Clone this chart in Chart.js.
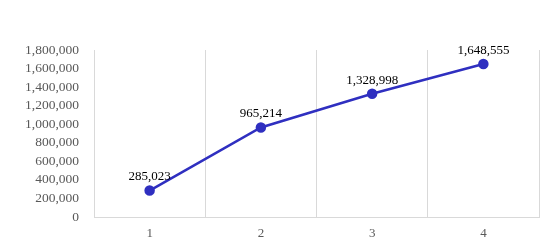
<!DOCTYPE html>
<html>
<head>
<meta charset="utf-8">
<script src="https://cdn.jsdelivr.net/npm/chart.js@4/dist/chart.umd.min.js"></script>
<style>
  html, body { margin: 0; padding: 0; background: #fff; }
  #wrap { width: 540px; height: 249px; position: relative; }
</style>
</head>
<body>
<div id="wrap"><canvas id="chart"></canvas></div>
<script>
const categories = ['1', '2', '3', '4'];
const values = [285023, 965214, 1328998, 1648555];
const yMin = 0;
const yMax = 1800000;
const yStep = 200000;

const fmt = v => v.toLocaleString('en-US');

// draws the number above each point
const pointLabels = {
    id: 'pointLabels',
    afterDatasetsDraw(chart) {
        const ctx = chart.ctx;
        const meta = chart.getDatasetMeta(0);
        ctx.save();
        ctx.font = '13px "Liberation Serif", serif';
        ctx.fillStyle = '#000';
        ctx.textAlign = 'center';
        ctx.textBaseline = 'bottom';
        meta.data.forEach((pt, i) => {
            ctx.fillText(fmt(values[i]), pt.x, pt.y - 7);
        });
        ctx.restore();
    }
};

const ctx = document.getElementById('chart').getContext('2d');
const lineChart = new Chart(ctx, {
    type: 'line',
    data: {
        labels: categories,
        datasets: [{
            data: values,
            borderColor: '#2f2fc0',
            backgroundColor: '#2f2fc0',
            borderWidth: 2.5,
            pointRadius: 4,
            pointHoverRadius: 4,
            tension: 0
        }]
    },
    options: {
        responsive: true,
        maintainAspectRatio: false,
        animation: false,
        events: [],
        layout: { autoPadding: false, padding: { top: 50, right: 1, left: 0, bottom: 0 } },
        plugins: {
            legend: { display: false },
            tooltip: { enabled: false }
        },
        scales: {
            x: {
                offset: true,
                grid: { offset: true, color: '#d9d9d9', drawTicks: false },
                border: { color: '#d9d9d9' },
                ticks: {
                    color: '#595959',
                    padding: 9,
                    autoSkip: false,
                    maxRotation: 0,
                    font: { family: '"Liberation Serif", serif', size: 13 }
                },
                afterFit(scale) {
                    scale.height = 32;
                    scale.paddingLeft = 0;
                    scale.paddingRight = 0;
                }
            },
            y: {
                min: yMin,
                max: yMax,
                grid: { display: false, drawTicks: false },
                border: { color: '#d9d9d9' },
                ticks: {
                    stepSize: yStep,
                    autoSkip: false,
                    color: '#595959',
                    padding: 15,
                    font: { family: '"Liberation Serif", serif', size: 13.5 },
                    callback: v => fmt(v)
                },
                afterFit(scale) {
                    scale.width = 94;
                    scale.paddingTop = 0;
                    scale.paddingBottom = 0;
                }
            }
        }
    },
    plugins: [pointLabels]
});
</script>
</body>
</html>
